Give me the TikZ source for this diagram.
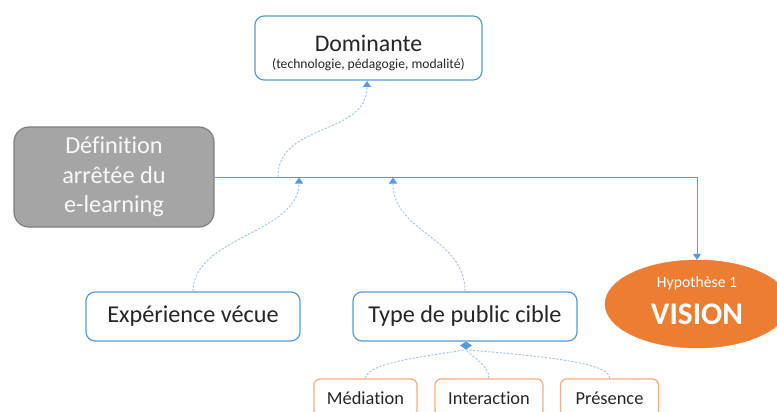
\documentclass[tikz,border=0pt]{standalone}
\usepackage{fontspec}
\setmainfont{Carlito}[Ligatures=NoCommon]
\usetikzlibrary{shapes.geometric,arrows.meta}
\definecolor{bl}{HTML}{5B9BD5}
\definecolor{lbl}{HTML}{9DC3E6}
\definecolor{og}{HTML}{ED7D31}
\definecolor{lo}{HTML}{F4B183}
\definecolor{gr}{HTML}{A5A5A5}
\definecolor{grd}{HTML}{7F7F7F}
\definecolor{tx}{HTML}{262626}
\tikzset{
  bluebox/.style={draw=bl, line width=1.2pt, rounded corners=9pt, fill=white, text=tx, inner sep=0pt, align=center},
  orbox/.style={draw=lo, line width=1.3pt, rounded corners=6pt, fill=white, text=tx, inner sep=0pt, font=\fontsize{18.4}{21}\selectfont},
  dconn/.style={draw=lbl, line width=0.9pt, dash pattern=on 2.2pt off 1.6pt},
  tip/.style={-{Triangle[width=8pt,length=6pt,color=bl]}},
  solidconn/.style={draw=bl, line width=0.8pt}
}
\begin{document}
\begin{tikzpicture}[x=1pt,y=-1pt]
\clip (0,0) rectangle (777,412);
\useasboundingbox (0,0) rectangle (777,412);
\fill[white] (0,0) rectangle (777,412);
% nodes
\node[bluebox, minimum width=227pt, minimum height=64pt] (dom) at (368.5,48) {};
\node[text=tx, font=\fontsize{23.8}{27}\selectfont] (domt) at (368.5,43) {Dominante};
\node[text=tx, font=\fontsize{13.6}{16}\selectfont] (doms) at (368.5,65) {(technologie, pédagogie, modalité)};
\node[draw=grd, fill=gr, line width=1.2pt, rounded corners=15pt, minimum width=200pt, minimum height=100pt, text=white!95!gray, align=center, font=\fontsize{24.3}{29.5}\selectfont] (def) at (114,177) {Définition\\arrêtée du\\e-learning};
\node[bluebox, minimum width=214pt, minimum height=49pt, font=\fontsize{24.2}{28}\selectfont] (exp) at (193,316.5) {Expérience vécue};
\node[bluebox, minimum width=224pt, minimum height=49pt, font=\fontsize{24.2}{28}\selectfont] (typ) at (465,316.5) {Type de public cible};
\node[orbox, minimum width=103pt, minimum height=38pt] (med) at (365.5,398) {Médiation};
\node[orbox, minimum width=108pt, minimum height=38pt] (int) at (489,398) {Interaction};
\node[orbox, minimum width=98pt, minimum height=38pt] (pre) at (609.5,398) {Présence};
\node[ellipse, fill=og, draw=og, minimum width=184pt, minimum height=88pt, inner sep=0pt] (ell) at (697,304) {};
\node[text=white, font=\fontsize{15.7}{18}\selectfont] (hyp) at (697,283) {Hypothèse 1};
\node[text=white, font=\bfseries\fontsize{31.4}{34}\selectfont] (vis) at (697,314) {VISION};
\node[diamond, fill=bl, minimum width=12pt, minimum height=8pt, inner sep=0pt] (dia) at (466,345.5) {};
% junctions
\coordinate (j1) at (278,177);
\coordinate (j2) at (299,177.5);
\coordinate (j3) at (393,177.5);
\coordinate (dtip) at (367,81);
% connectors
\draw[solidconn, tip] (def.east) -| (ell.north);
\draw[dconn, tip] (j1) .. controls (278,122) and (367,136) .. (dtip);
\draw[dconn, tip] (exp.north) .. controls (193,237) and (299,233) .. (j2);
\draw[dconn, tip] (typ.north) .. controls (465,237) and (393,233) .. (j3);
\draw[dconn] (med.north) .. controls (367,362) and (430,356) .. (dia.south);
\draw[dconn] (int.north) .. controls (489,364) and (470,356) .. (dia.south);
\draw[dconn] (pre.north) .. controls (612,360) and (510,354) .. (dia.south);
\end{tikzpicture}
\end{document}
